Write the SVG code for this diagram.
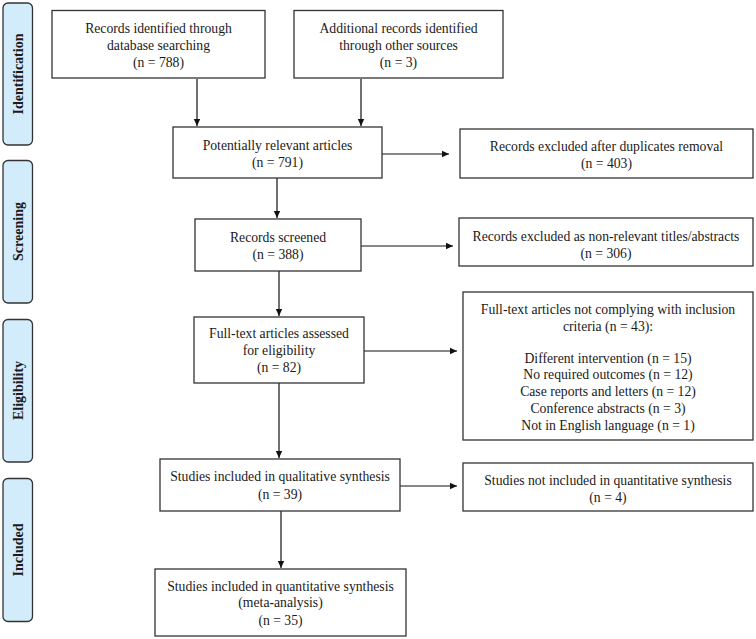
<svg xmlns="http://www.w3.org/2000/svg" width="756" height="639" viewBox="0 0 756 639">
<defs>
<marker id="ah" markerWidth="8" markerHeight="8" refX="7" refY="4" orient="auto" markerUnits="userSpaceOnUse">
<path d="M0,0.8 L7,4 L0,7.2 Z" fill="#111"/>
</marker>
<style>
.box{fill:#fff;stroke:#333;stroke-width:1.3}
.side{fill:#d2ecfb;stroke:#333;stroke-width:1.3}
.t{font-family:"Liberation Serif","Times New Roman",serif;font-size:13.7px;fill:#1a1a1a;text-anchor:middle}
.s{font-family:"Liberation Serif","Times New Roman",serif;font-size:14px;font-weight:bold;fill:#1a1a1a;text-anchor:middle}
.c{stroke:#111;stroke-width:1.2;fill:none;marker-end:url(#ah)}
</style>
</defs>
<rect width="756" height="639" fill="#fff"/>
<g id="stages">
<g id="stage-identification"><rect class="side" x="3" y="3" width="29.5" height="142" rx="5"/><text class="s" transform="translate(22.5,74) rotate(-90)">Identification</text></g>
<g id="stage-screening"><rect class="side" x="3" y="160.5" width="29.5" height="142.5" rx="5"/><text class="s" transform="translate(22.5,231.5) rotate(-90)">Screening</text></g>
<g id="stage-eligibility"><rect class="side" x="3" y="319.5" width="29.5" height="142.5" rx="5"/><text class="s" transform="translate(22.5,390.5) rotate(-90)">Eligibility</text></g>
<g id="stage-included"><rect class="side" x="3" y="478.5" width="29.5" height="143" rx="5"/><text class="s" transform="translate(22.5,550) rotate(-90)">Included</text></g>
</g>
<g id="connectors">
<line class="c" x1="197" y1="79" x2="197" y2="126"/>
<line class="c" x1="361" y1="79" x2="361" y2="126"/>
<line class="c" x1="277" y1="178" x2="277" y2="218"/>
<line class="c" x1="279" y1="271" x2="279" y2="316"/>
<line class="c" x1="279" y1="383" x2="279" y2="458"/>
<line class="c" x1="281" y1="511" x2="281" y2="568"/>
<line class="c" x1="382" y1="154" x2="449" y2="154"/>
<line class="c" x1="361" y1="246" x2="453" y2="246"/>
<line class="c" x1="364" y1="351" x2="457" y2="351"/>
<line class="c" x1="400" y1="486" x2="457" y2="486"/>
</g>
<g id="n1"><rect class="box" x="52" y="10.5" width="213" height="67.5"/>
<text class="t" x="158.5" y="32.5">Records identified through</text>
<text class="t" x="158.5" y="49.5">database searching</text>
<text class="t" x="158.5" y="66.5">(n = 788)</text></g>
<g id="n2"><rect class="box" x="294" y="10.5" width="209" height="67.5"/>
<text class="t" x="398.5" y="32.5">Additional records identified</text>
<text class="t" x="398.5" y="49.5">through other sources</text>
<text class="t" x="398.5" y="66.5">(n = 3)</text></g>
<g id="n3"><rect class="box" x="173" y="127" width="209" height="51"/>
<text class="t" x="277.5" y="149.5">Potentially relevant articles</text>
<text class="t" x="277.5" y="167">(n = 791)</text></g>
<g id="n4"><rect class="box" x="460" y="129" width="293" height="49"/>
<text class="t" x="606.5" y="151">Records excluded after duplicates removal</text>
<text class="t" x="606.5" y="167.5">(n = 403)</text></g>
<g id="n5"><rect class="box" x="195" y="219" width="166" height="52"/>
<text class="t" x="278" y="241.5">Records screened</text>
<text class="t" x="278" y="258.5">(n = 388)</text></g>
<g id="n6"><rect class="box" x="459" y="218" width="294" height="48"/>
<text class="t" x="606" y="241">Records excluded as non-relevant titles/abstracts</text>
<text class="t" x="606" y="258">(n = 306)</text></g>
<g id="n7"><rect class="box" x="194" y="317" width="170" height="66"/>
<text class="t" x="279" y="337.5">Full-text articles assessed</text>
<text class="t" x="279" y="354.5">for eligibility</text>
<text class="t" x="279" y="371.5">(n = 82)</text></g>
<g id="n8"><rect class="box" x="463" y="292" width="290" height="148"/>
<text class="t" x="608" y="313.5">Full-text articles not complying with inclusion</text>
<text class="t" x="608" y="330.5">criteria (n = 43):</text>
<text class="t" x="608" y="362.5">Different intervention (n = 15)</text>
<text class="t" x="608" y="379.3">No required outcomes (n = 12)</text>
<text class="t" x="608" y="396">Case reports and letters (n = 12)</text>
<text class="t" x="608" y="412.7">Conference abstracts (n = 3)</text>
<text class="t" x="608" y="429.5">Not in English language (n = 1)</text></g>
<g id="n9"><rect class="box" x="160" y="459" width="240" height="52"/>
<text class="t" x="280" y="481">Studies included in qualitative synthesis</text>
<text class="t" x="280" y="498.5">(n = 39)</text></g>
<g id="n10"><rect class="box" x="463" y="463" width="290" height="48"/>
<text class="t" x="608" y="484.5">Studies not included in quantitative synthesis</text>
<text class="t" x="608" y="501.5">(n = 4)</text></g>
<g id="n11"><rect class="box" x="155" y="569" width="251" height="67"/>
<text class="t" x="280.5" y="590.5">Studies included in quantitative synthesis</text>
<text class="t" x="280.5" y="607">(meta-analysis)</text>
<text class="t" x="280.5" y="624.5">(n = 35)</text></g>
</svg>
